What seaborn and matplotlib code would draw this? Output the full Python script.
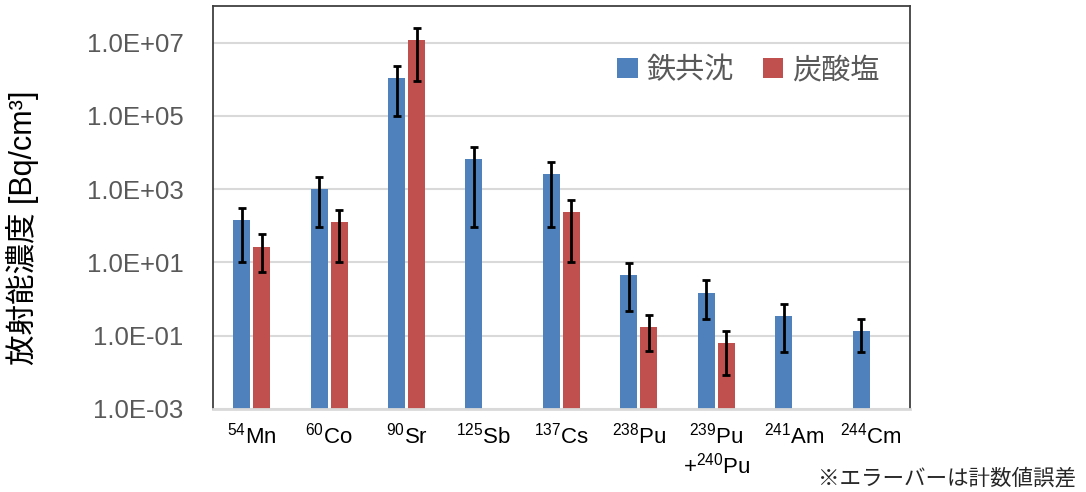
import matplotlib
matplotlib.use("Agg")
import matplotlib.pyplot as plt
import numpy as np
import pandas as pd
import seaborn as sns

# values (Bq/cm3)
nuclides = ["54Mn", "60Co", "90Sr", "125Sb", "137Cs", "238Pu", "239Pu+240Pu", "241Am", "244Cm"]
tick_labels = [r"$\mathregular{^{54}}$Mn", r"$\mathregular{^{60}}$Co", r"$\mathregular{^{90}}$Sr",
               r"$\mathregular{^{125}}$Sb", r"$\mathregular{^{137}}$Cs", r"$\mathregular{^{238}}$Pu",
               "$\\mathregular{^{239}}$Pu\n+$\\mathregular{^{240}}$Pu",
               r"$\mathregular{^{241}}$Am", r"$\mathregular{^{244}}$Cm"]
methods = ["鉄共沈", "炭酸塩"]

fe_vals = [145, 990, 1.08e6, 6500, 2600, 4.6, 1.47, 0.34, 0.135]
fe_lo = [10, 91, 1.0e5, 91, 91, 0.46, 0.28, 0.036, 0.036]
fe_hi = [310, 2140, 2.3e6, 13800, 5500, 9.8, 3.2, 0.72, 0.29]

ca_vals = [26, 128, 1.17e7, np.nan, 244, 0.17, 0.061, np.nan, np.nan]
ca_lo = [5.5, 10, 9.1e5, np.nan, 10, 0.037, 0.0083, np.nan, np.nan]
ca_hi = [60, 272, 2.5e7, np.nan, 508, 0.36, 0.13, np.nan, np.nan]

colors = ["#4F81BD", "#C0504D"]

df = pd.DataFrame({
    "nuclide": nuclides * 2,
    "method": [methods[0]] * len(nuclides) + [methods[1]] * len(nuclides),
    "value": fe_vals + ca_vals,
    "lo": fe_lo + ca_lo,
    "hi": fe_hi + ca_hi,
})
df = df.dropna()

sns.set_style("white")
plt.rcParams["font.family"] = ["Liberation Sans", "Noto Sans CJK JP", "DejaVu Sans"]
plt.rcParams["mathtext.default"] = "regular"

fig = plt.figure(figsize=(10.86, 4.92), dpi=100)
ax = fig.add_axes([0.196, 0.169, 0.642, 0.819])
ax.set_yscale("log")

sns.barplot(data=df, x="nuclide", y="value", hue="method",
            order=nuclides, hue_order=methods, palette=colors,
            width=0.517, gap=0.15, errorbar=None, saturation=1,
            linewidth=0, ax=ax)

# asymmetric error bars on top of each bar
for i, m in enumerate(methods):
    present = df[df["method"] == m]
    sub = present.set_index("nuclide").reindex([n for n in nuclides if n in set(present["nuclide"])])
    bars = list(ax.containers[i])
    xs = [b.get_x() + b.get_width() / 2 for b in bars]
    v = sub["value"].values
    ax.errorbar(xs, v, yerr=[v - sub["lo"].values, sub["hi"].values - v],
                fmt="none", ecolor="black", elinewidth=2, capsize=3, capthick=2, zorder=5)

ax.set_ylim(1e-3, 1e8)
ax.set_xlim(-0.5, 8.5)
ax.set_yticks([1e-3, 1e-1, 1e1, 1e3, 1e5, 1e7])
ax.set_yticklabels(["1.0E-03", "1.0E-01", "1.0E+01", "1.0E+03", "1.0E+05", "1.0E+07"],
                   fontsize=18.5, color="#595959")
ax.minorticks_off()
ax.yaxis.grid(True, color="#D9D9D9", linewidth=1.5)
ax.set_axisbelow(True)
ax.tick_params(axis="both", length=0)
ax.tick_params(axis="y", pad=21)
ax.tick_params(axis="x", pad=10)
ax.set_xticks(range(len(nuclides)))
ax.set_xticklabels(tick_labels, fontsize=16, color="black", linespacing=1.2)
for lab in ax.get_xticklabels():
    lab.set_verticalalignment("top")

for s in ["left", "top", "right"]:
    ax.spines[s].set_color("#404040")
    ax.spines[s].set_linewidth(1.3)
ax.spines["bottom"].set_color("#D9D9D9")
ax.spines["bottom"].set_linewidth(2)

ax.set_xlabel("")
ax.set_ylabel("放射能濃度 [Bq/cm³]", fontsize=22, color="black")
ax.yaxis.set_label_coords(-0.25, 0.45)

leg = ax.legend(loc="center left", bbox_to_anchor=(0.58, 0.84), ncol=2, frameon=False,
                fontsize=21, handlelength=0.7, handleheight=0.7, handletextpad=0.3,
                columnspacing=1.0, borderaxespad=0, borderpad=0)
for t in leg.get_texts():
    t.set_color("#595959")

fig.text(0.991, 0.005, "※エラーバーは計数値誤差", ha="right", va="bottom", fontsize=15.5,
         family=["Noto Sans CJK JP", "DejaVu Sans"])

fig.savefig("out.png", dpi=100)
